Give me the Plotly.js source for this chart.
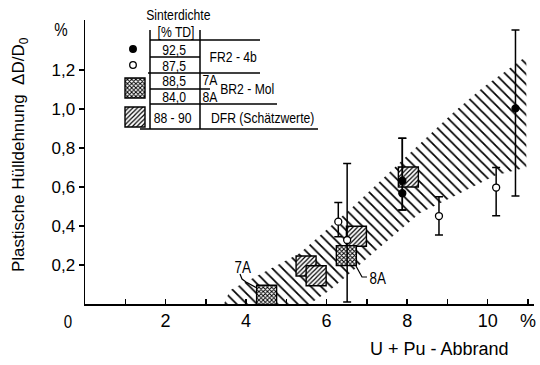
<!DOCTYPE html>
<html>
<head>
<meta charset="utf-8">
<script src="https://cdn.plot.ly/plotly-3.0.1.min.js"></script>
<style>
  html, body { margin: 0; padding: 0; background: #fff; }
  #chart { width: 540px; height: 365px; }
</style>
</head>
<body>
<div id="chart"></div>
<script>
// Plastic cladding strain ΔD/D0 (%) versus U+Pu burnup (%)

// FR2-4b, sintered density 92,5 % TD (filled circles) with error limits
const fr2DenseX  = [7.88, 7.88, 10.69];
const fr2DenseY  = [0.632, 0.568, 1.003];
const fr2DenseHi = [0.85, 0.85, 1.405];
const fr2DenseLo = [0.482, 0.482, 0.554];

// FR2-4b, sintered density 87,5 % TD (open circles) with error limits
const fr2LightX  = [6.29, 6.51, 8.79, 10.21];
const fr2LightY  = [0.422, 0.328, 0.451, 0.597];
const fr2LightHi = [0.52, 0.72, 0.55, 0.70];
const fr2LightLo = [0.345, 0.01, 0.354, 0.453];

// BR2-Mol capsules 7A / 8A (cross-hatched squares)
const br2MolX = [4.51, 6.49];
const br2MolY = [0.045, 0.248];
const br2MolNames = ['7A', '8A'];

// DFR estimates (hatched squares)
const dfrX = [5.49, 5.74, 6.74, 8.03];
const dfrY = [0.195, 0.145, 0.347, 0.651];

// Scatter band: upper and lower boundary
const bandUpperX = [3.45, 3.6, 5.33, 6.66, 8.15, 9.14, 9.88, 10.96];
const bandUpperY = [0.0, 0.07, 0.26, 0.50, 0.79, 0.98, 1.11, 1.27];
const bandLowerX = [5.58, 6.08, 6.65, 7.15, 8.31, 9.14, 10.2, 10.96];
const bandLowerY = [0.0, 0.07, 0.17, 0.26, 0.465, 0.55, 0.66, 0.70];

// Axis ticks
const xTickVals = [2, 4, 6, 8, 10, 11];
const xTickText = ['2', '4', '6', '8', '10', '%'];
const xMinorVals = [1, 3, 5, 7, 9];
const yTickVals = [0.2, 0.4, 0.6, 0.8, 1.0, 1.2];
const yTickText = ['0,2', '0,4', '0,6', '0,8', '1,0', '1,2'];

// Legend table rows
const legendDensity = ['92,5', '87,5', '88,5', '84,0', '88 - 90'];

// ---- page geometry ----
const W = 540, H = 365;
const M = { l: 85, r: 6, t: 20, b: 61 };
const PW = W - M.l - M.r, PH = H - M.t - M.b;
const X_RANGE = [0, 11.15];
const Y_RANGE = [0, 1.456];
const FONT = '"Liberation Sans", Arial, sans-serif';
const NARROW = 0.84;   // horizontal squeeze for the condensed lettering

// pixel -> paper / data helpers for the annotation layout
const px = v => (v - M.l) / PW;
const py = v => (H - M.b - v) / PH;
const dx = v => X_RANGE[0] + px(v) * (X_RANGE[1] - X_RANGE[0]);
const dy = v => Y_RANGE[0] + py(v) * (Y_RANGE[1] - Y_RANGE[0]);

// square marker size (20 px) in data units
const SQ = 20;
const sqW = SQ / PW * (X_RANGE[1] - X_RANGE[0]);
const sqH = SQ / PH * (Y_RANGE[1] - Y_RANGE[0]);

const hatchPattern = { shape: '/', size: 3.2, solidity: 0.38, fgcolor: '#000', bgcolor: '#fff' };
const crossPattern = { shape: 'x', size: 3, solidity: 0.55, fgcolor: '#000', bgcolor: '#fff' };

function squares(xs, ys, pattern) {
  return {
    type: 'bar', xaxis: 'x2', yaxis: 'y2',
    x: xs, y: xs.map(() => sqH), base: ys.map(v => v - sqH / 2),
    width: sqW, showlegend: false, hoverinfo: 'skip',
    marker: { color: '#fff', line: { color: '#000', width: 1.4 }, pattern: pattern }
  };
}

function circles(xs, ys, hi, lo, filled) {
  return {
    type: 'scatter', mode: 'markers', xaxis: 'x2', yaxis: 'y2',
    x: xs, y: ys, showlegend: false, cliponaxis: false,
    marker: { size: 7, color: filled ? '#000' : '#fff', line: { color: '#000', width: 1.3 } },
    error_y: {
      type: 'data', symmetric: false,
      array: hi.map((h, i) => h - ys[i]),
      arrayminus: lo.map((l, i) => ys[i] - l),
      color: '#000', thickness: 1.5, width: 4
    }
  };
}

const band = {
  type: 'scatter', mode: 'none', xaxis: 'x', yaxis: 'y',
  x: bandUpperX.concat(bandLowerX.slice().reverse()),
  y: bandUpperY.concat(bandLowerY.slice().reverse()),
  fill: 'toself', fillcolor: 'rgba(255,255,255,0)',
  fillpattern: { shape: '\\', size: 7.2, solidity: 0.24, fgcolor: '#000', bgcolor: 'rgba(255,255,255,0)' },
  showlegend: false, hoverinfo: 'skip'
};

const traces = [
  band,
  squares(dfrX, dfrY, hatchPattern),
  squares(br2MolX, br2MolY, crossPattern),
  // legend swatches
  squares([dx(135)], [dy(88)], crossPattern),
  squares([dx(135)], [dy(117)], hatchPattern),
  circles(fr2LightX, fr2LightY, fr2LightHi, fr2LightLo, false),
  circles(fr2DenseX, fr2DenseY, fr2DenseHi, fr2DenseLo, true)
];

// ---- legend table lines ----
const lineStyle = { color: '#000', width: 1.5 };
function hline(y, x0, x1) {
  return { type: 'line', xref: 'paper', yref: 'paper', x0: px(x0), x1: px(x1), y0: py(y), y1: py(y), line: lineStyle };
}
function vline(x, y0, y1) {
  return { type: 'line', xref: 'paper', yref: 'paper', x0: px(x), x1: px(x), y0: py(y0), y1: py(y1), line: lineStyle };
}
function dot(cx, cy, r, filled) {
  return {
    type: 'circle', xref: 'paper', yref: 'paper',
    x0: px(cx - r), x1: px(cx + r), y0: py(cy + r), y1: py(cy - r),
    fillcolor: filled ? '#000' : '#fff', line: { color: '#000', width: 1.3 }
  };
}
function pathShape(points) {
  const d = points.map((p, i) => (i ? 'L' : 'M') + px(p[0]).toFixed(5) + ',' + py(p[1]).toFixed(5)).join(' ');
  return { type: 'path', xref: 'paper', yref: 'paper', path: d, line: { color: '#000', width: 1.2 } };
}

const shapes = [
  vline(150, 30, 129), vline(200, 30, 129),
  hline(40, 150, 260), hline(57, 150, 200), hline(73, 148, 260),
  hline(89, 150, 210), hline(104, 150, 277), hline(129, 140, 318),
  dot(133, 49, 3.3, true), dot(133, 65, 3.3, false),
  // leader lines for the capsule labels
  pathShape([[240, 274], [242, 279], [246, 282], [257, 288]]),
  pathShape([[356, 266], [362, 277], [367, 277]])
];

const narrowIdx = [];
function txt(text, x, y, size, narrow, extra) {
  return Object.assign({
    text: text, xref: 'paper', yref: 'paper', x: px(x), y: py(y),
    xanchor: 'center', yanchor: 'middle', showarrow: false,
    font: { family: FONT, size: size, color: '#000' },
    _narrow: narrow
  }, extra || {});
}

const annList = [
  txt('Sinterdichte', 178, 15, 14.5, true),
  txt('[% TD]', 176, 32, 14.5, true),
  txt(legendDensity[0], 174, 50, 14.5, true),
  txt(legendDensity[1], 174, 66, 14.5, true),
  txt(legendDensity[2], 174, 81, 14.5, true),
  txt(legendDensity[3], 174, 97, 14.5, true),
  txt(legendDensity[4], 172, 118, 14.5, true),
  txt('FR2 - 4b', 233, 57, 14.5, true),
  txt(br2MolNames[0], 210, 80, 14.5, true),
  txt(br2MolNames[1], 210, 97, 14.5, true),
  txt('BR2 - Mol', 247, 89, 14.5, true),
  txt('DFR (Schätzwerte)', 262, 118, 14.5, true),
  txt(br2MolNames[0], 243, 267, 16, true),
  txt(br2MolNames[1], 378, 278, 16, true),
  txt('0', 68, 322, 18, true),
  txt('%', 61, 30, 18, true),
  txt('U + Pu - Abbrand', 439, 349, 18, false),
  txt('Plastische Hülldehnung  ΔD/D<sub>0</sub>', 20, 155, 17, false, { textangle: -90 })
];
const annotations = annList.map((a, i) => {
  if (a._narrow) narrowIdx.push(i);
  const c = Object.assign({}, a);
  delete c._narrow;
  return c;
});

const axisCommon = {
  showgrid: false, zeroline: false, showline: true,
  linecolor: '#000', linewidth: 1.5, tickcolor: '#000', tickwidth: 1.5,
  ticklen: 5, fixedrange: true, tickmode: 'array'
};

const layout = {
  width: W, height: H, margin: M,
  paper_bgcolor: '#fff', plot_bgcolor: '#fff',
  showlegend: false, barmode: 'overlay', bargap: 0,
  font: { family: FONT, color: '#000' },
  xaxis: Object.assign({}, axisCommon, {
    range: X_RANGE, ticks: 'inside', tickvals: xTickVals, ticktext: xTickText,
    tickfont: { family: FONT, size: 18, color: '#000' },
    minor: { tickmode: 'array', tickvals: xMinorVals, ticks: 'inside', ticklen: 5, tickwidth: 1.5, tickcolor: '#000', showgrid: false }
  }),
  yaxis: Object.assign({}, axisCommon, {
    range: Y_RANGE, ticks: 'outside', tickvals: yTickVals, ticktext: yTickText,
    tickfont: { family: FONT, size: 17, color: '#000' }
  }),
  xaxis2: { overlaying: 'x', anchor: 'y2', range: X_RANGE, visible: false, fixedrange: true },
  yaxis2: { overlaying: 'y', anchor: 'x2', range: Y_RANGE, visible: false, fixedrange: true },
  shapes: shapes,
  annotations: annotations
};

// condensed lettering: squeeze the chosen labels about their own centre
function condense(gd) {
  gd.querySelectorAll('g.annotation').forEach(g => {
    const idx = Number(g.getAttribute('data-index'));
    if (narrowIdx.indexOf(idx) < 0) return;
    const t = g.querySelector('text.annotation-text');
    if (!t) return;
    t.style.transformBox = 'fill-box';
    t.style.transformOrigin = 'center';
    t.style.transform = 'scaleX(' + NARROW + ')';
  });
}

Plotly.newPlot('chart', traces, layout, { staticPlot: true, displayModeBar: false })
  .then(condense);
</script>
</body>
</html>
